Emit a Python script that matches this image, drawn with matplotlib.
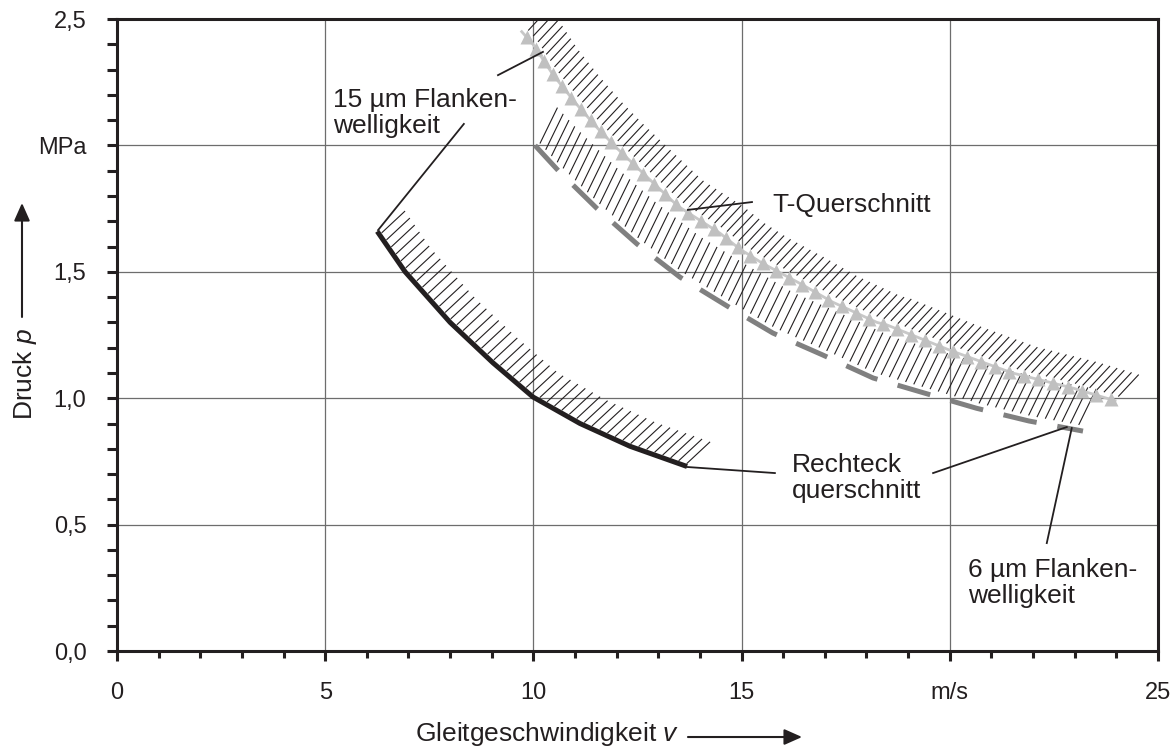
import numpy as np
import matplotlib
matplotlib.use('Agg')
import matplotlib.pyplot as plt
from matplotlib.collections import LineCollection
from matplotlib.ticker import MultipleLocator

plt.rcParams['font.family'] = ['Liberation Sans', 'DejaVu Sans']
plt.rcParams['mathtext.fontset'] = 'custom'
plt.rcParams['mathtext.rm'] = 'Liberation Sans'
plt.rcParams['mathtext.it'] = 'Liberation Sans:italic'

# Rechteckquerschnitt, 15 um Flankenwelligkeit (schwarz)
rect_v = [6.25, 6.92, 8.0, 9.03, 9.99, 11.12, 12.32, 13.69]
rect_p = [1.66, 1.50, 1.30, 1.14, 1.005, 0.90, 0.81, 0.73]

# T-Querschnitt (hellgrau, Dreiecke)
t_v = [9.72, 9.99, 10.47, 11.0, 11.53, 12.0, 12.73, 13.47, 14.48, 14.96,
       15.49, 16.47, 17.19, 18.25, 18.49, 20.0, 21.5, 22.96, 23.97]
t_p = [2.45, 2.40, 2.28, 2.17, 2.07, 1.99, 1.875, 1.76, 1.653, 1.59,
       1.535, 1.448, 1.38, 1.30, 1.29, 1.19, 1.10, 1.04, 0.99]

# Rechteckquerschnitt, 6 um Flankenwelligkeit (dunkelgrau, gestrichelt)
d_v = [10.04, 10.6, 11.53, 12.49, 13.52, 14.65, 15.75, 16.95, 18.16,
       19.4, 20.65, 21.9, 23.2]
d_p = [2.0, 1.90, 1.75, 1.61, 1.479, 1.365, 1.258, 1.171, 1.08,
       1.02, 0.96, 0.91, 0.87]

x_ticks = [0, 5, 10, 15, 20, 25]
x_lbls = ['0', '5', '10', '15', 'm/s', '25']
y_ticks = [0.0, 0.5, 1.0, 1.5, 2.0, 2.5]
y_lbls = ['0,0', '0,5', '1,0', '1,5', 'MPa', '2,5']

# annotation texts (left x, baseline y of last line) and leader lines
notes = [
    ('15 µm Flanken-\nwelligkeit', 5.19, 2.049),
    ('T-Querschnitt', 15.75, 1.737),
    ('Rechteck\nquerschnitt', 16.21, 0.605),
    ('6 µm Flanken-\nwelligkeit', 20.44, 0.19),
]
leaders = [
    ((8.33, 2.085), (6.27, 1.665)),
    ((9.15, 2.278), (10.23, 2.37)),
    ((13.71, 1.745), (15.25, 1.776)),
    ((13.69, 0.728), (15.80, 0.704)),
    ((19.60, 0.704), (22.81, 0.886)),
    ((22.93, 0.882), (22.33, 0.427)),
]

tick_size = 17
text_size = 19
ink = '#231f20'


def along(ax, xs, ys, step):
    # points at equal pixel distance along the drawn polyline
    pts = ax.transData.transform(np.column_stack([xs, ys]))
    s = np.concatenate([[0], np.cumsum(np.hypot(*np.diff(pts, axis=0).T))])
    t = np.arange(step / 2, s[-1], step)
    return np.column_stack([np.interp(t, s, pts[:, 0]), np.interp(t, s, pts[:, 1])])


def hatch(ax, xs, ys, step, length, angle, offset):
    pts = along(ax, xs, ys, step) + np.array(offset)
    d = length * np.array([np.cos(np.radians(angle)), np.sin(np.radians(angle))])
    inv = ax.transData.inverted()
    segs = [inv.transform(np.array([p, p + d])) for p in pts]
    ax.add_collection(LineCollection(segs, colors=ink, linewidths=0.8, zorder=3))


fig = plt.figure(figsize=(11.7, 7.49), dpi=100)
ax = fig.add_axes([0.1, 0.1308, 0.8897, 0.8438])
ax.set_xlim(0, 25)
ax.set_ylim(0, 2.5)

ax.set_xticks(x_ticks, x_lbls)
ax.set_yticks(y_ticks, y_lbls)
ax.xaxis.set_minor_locator(MultipleLocator(1))
ax.yaxis.set_minor_locator(MultipleLocator(0.1))
ax.tick_params(which='both', direction='out', width=2.2, color=ink,
               labelsize=tick_size, labelcolor=ink, pad=15)
ax.tick_params(axis='x', which='major', length=7)
ax.tick_params(axis='x', which='minor', length=5)
ax.tick_params(axis='y', which='both', length=7)
for sp in ax.spines.values():
    sp.set_linewidth(2.2)
    sp.set_color(ink)
ax.grid(True, which='major', color='#6d6d6d', linewidth=0.9, zorder=0)
ax.set_axisbelow(True)

# curves
ax.plot(rect_v, rect_p, color=ink, linewidth=3.6, solid_capstyle='butt',
        solid_joinstyle='round', zorder=4)
ax.plot(d_v, d_p, color='#808080', linewidth=3.6, dashes=(6.8, 4.2), zorder=4)
ax.plot(t_v, t_p, color='#c8c8c8', linewidth=2.0, zorder=4)
tri = ax.transData.inverted().transform(along(ax, t_v, t_p, 15))
ax.plot(tri[:, 0], tri[:, 1], linestyle='none', marker='^', markersize=9.5,
        color='#c0c0c0', markeredgecolor='none', zorder=5)

# hatching marking the limit side
hatch(ax, rect_v, rect_p, 8.5, 32, 43, (2, 2))
hatch(ax, t_v, t_p, 7.5, 30, 47, (4, 4))
hatch(ax, d_v, d_p, 8.5, 40, 64, (2, 5))

for (x0, y0), (x1, y1) in leaders:
    ax.plot([x0, x1], [y0, y1], color=ink, linewidth=1.3, zorder=6)
for txt, x, y in notes:
    ax.text(x, y, txt, fontsize=text_size, color=ink, ha='left', va='baseline',
            linespacing=1.13, zorder=7)

# axis labels with arrows
fig.text(0.021, 0.5013, 'Druck $p$', rotation=90, ha='center', va='center',
         fontsize=text_size, color=ink)
fig.text(0.3547, 0.0107, 'Gleitgeschwindigkeit $v$', ha='left', va='baseline',
         fontsize=text_size, color=ink)
arrow = dict(arrowstyle='-|>,head_length=0.9,head_width=0.4', color=ink,
             linewidth=1.5, shrinkA=0, shrinkB=0, mutation_scale=12)
ax.annotate('', xy=(0.0188, 0.729), xytext=(0.0188, 0.5768),
            xycoords='figure fraction', textcoords='figure fraction',
            arrowprops=arrow, annotation_clip=False)
ax.annotate('', xy=(0.6855, 0.016), xytext=(0.588, 0.016),
            xycoords='figure fraction', textcoords='figure fraction',
            arrowprops=arrow, annotation_clip=False)

fig.savefig('out.png', dpi=100)
